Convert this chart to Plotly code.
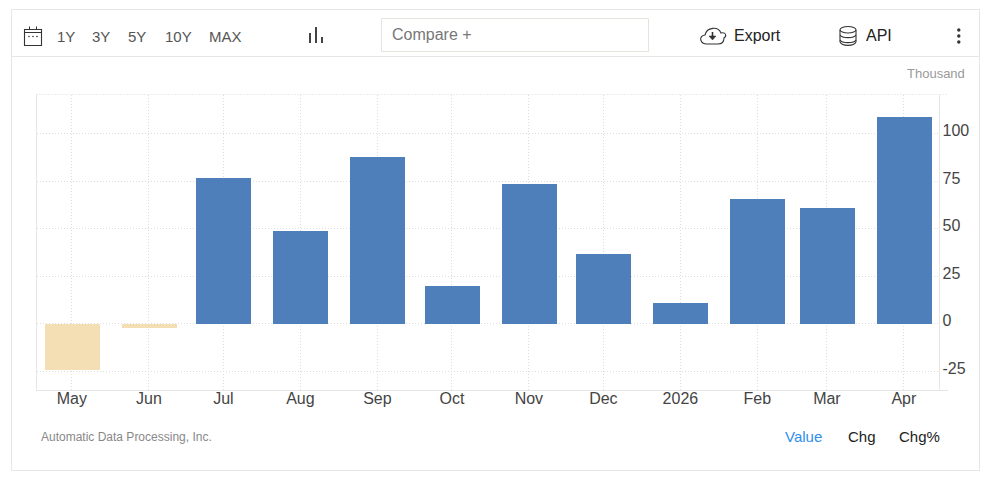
import plotly.graph_objects as go

dates = ["2025-05-01","2025-06-01","2025-07-01","2025-08-01","2025-09-01","2025-10-01",
         "2025-11-01","2025-12-01","2026-01-01","2026-02-01","2026-03-01","2026-04-01"]
values = [-24,-2,77.1,49.2,88.1,20.2,73.9,37.1,11.3,66,61.3,109.2]
x_labels = ["May","Jun","Jul","Aug","Sep","Oct","Nov","Dec","2026","Feb","Mar","Apr"]
y_ticks = [-25,0,25,50,75,100]
y_labels = ["-25","0","25","50","75","100"]

W, H = 991, 478
px = lambda x: x / W
py = lambda y: 1 - y / H
BLUE, SAND = "#4e7fbb", "#f4deb4"
BORDER = "#e6e6e6"
DOT = "1px,2px"

fig = go.Figure(go.Bar(
    x=dates, y=values,
    width=22.13 * 86400000,
    marker=dict(color=[BLUE if v >= 0 else SAND for v in values], line_width=0),
    hoverinfo="skip",
))

shapes = []
def line(x0, y0, x1, y1, color=BORDER, width=1, dash="solid", layer="above"):
    shapes.append(dict(type="line", xref="paper", yref="paper", x0=px(x0), y0=py(y0), x1=px(x1), y1=py(y1),
                       line=dict(color=color, width=width, dash=dash), layer=layer))
def rect(x0, y0, x1, y1, color=BORDER, width=1, fill=None):
    shapes.append(dict(type="rect", xref="paper", yref="paper", x0=px(x0), y0=py(y0), x1=px(x1), y1=py(y1),
                       line=dict(color=color, width=width), fillcolor=fill or "rgba(0,0,0,0)", layer="above"))
def circle(cx, cy, r, color):
    shapes.append(dict(type="circle", xref="paper", yref="paper", x0=px(cx-r), y0=py(cy-r), x1=px(cx+r), y1=py(cy+r),
                       line=dict(width=0), fillcolor=color, layer="above"))
def path(points, color="#333", width=1.2, fill=None):
    d = ""
    for cmd, *xy in points:
        d += cmd + " ".join(f"{px(xy[i]):.5f},{py(xy[i+1]):.5f}" for i in range(0, len(xy), 2))
    shapes.append(dict(type="path", xref="paper", yref="paper", path=d,
                       line=dict(color=color, width=width), fillcolor=fill or "rgba(0,0,0,0)", layer="above"))

# frame and toolbar
rect(11.5, 9.5, 979.5, 470.5)
line(12, 56.5, 979, 56.5)
rect(381.5, 18.5, 648.5, 51.5, color="#e4e4dc")
# chart frame lines
line(36.5, 94.5, 948, 94.5, dash=DOT, color="#dddddd")
line(36.5, 94.5, 36.5, 390.5)
line(939.5, 94.5, 939.5, 390.5)
line(36.5, 390.5, 948, 390.5)
# calendar icon
rect(24.5, 29.5, 41.5, 45.5, color="#333", width=1.1)
line(24.5, 32.5, 41.5, 32.5, color="#333", width=1)
line(29.5, 26.5, 29.5, 29.5, color="#333", width=1)
line(36.5, 26.5, 36.5, 29.5, color="#333", width=1)
for cx in (29, 33, 37):
    circle(cx, 36.5, 0.8, "#333")
# bar-chart icon
line(310, 33, 310, 43, color="#444", width=2)
line(316, 27, 316, 43, color="#444", width=2)
line(322, 37, 322, 43, color="#444", width=2)
# cloud icon
path([("M",707,44),("C",700,44,698,36,705,35),("C",707,27,718,26,721,33),("C",726,32,727,36,724,38),
      ("C",724,42,722,44,718,44),("L",707,44),("Z",)], color="#333", width=1.1)
line(712.5, 32, 712.5, 37, color="#333", width=1.6)
path([("M",709,36),("L",716,36),("L",712.5,40),("Z",)], color="#333", width=0.5, fill="#333")
# database icon
shapes.append(dict(type="circle", xref="paper", yref="paper", x0=px(840), x1=px(856), y0=py(26.5), y1=py(33),
                   line=dict(color="#333", width=1.1), layer="above"))
line(840, 30, 840, 42, color="#333", width=1.1)
line(856, 30, 856, 42, color="#333", width=1.1)
for yc in (35, 40):
    path([("M",840,yc),("C",842,yc+3.5,854,yc+3.5,856,yc)], color="#333", width=1.1)
path([("M",840,42),("C",842,46.5,854,46.5,856,42)], color="#333", width=1.1)
# kebab
for cy in (30, 36, 42):
    circle(958.8, cy, 1.7, "#333")

anns = []
def text(x, y, s, size, color, anchor="left"):
    anns.append(dict(text=s, x=px(x), y=py(y), xref="paper", yref="paper", showarrow=False,
                     xanchor=anchor, yanchor="middle", borderpad=0, borderwidth=0,
                     font=dict(family="Liberation Sans, Arial", size=size, color=color)))
for x, s in [(57, "1Y"), (92, "3Y"), (128, "5Y"), (165, "10Y"), (209, "MAX")]:
    text(x, 36.5, s, 15, "#555")
text(392, 34.5, "Compare +", 16, "#777")
text(734, 35.5, "Export", 16, "#222")
text(866, 35.5, "API", 16, "#222")
text(965, 73.5, "Thousand", 13, "#999", "right")
text(41, 436.5, "Automatic Data Processing, Inc.", 12, "#888")
text(785, 436.5, "Value", 15, "#2e8ff0")
text(848, 436.5, "Chg", 15, "#222")
text(899, 436.5, "Chg%", 15, "#222")

tickfont = dict(family="Liberation Sans, Arial", size=16, color="#444")
fig.update_layout(
    width=W, height=H, autosize=False,
    margin=dict(l=0, r=0, t=0, b=0),
    paper_bgcolor="white", plot_bgcolor="white",
    showlegend=False, bargap=0,
    shapes=shapes, annotations=anns,
    xaxis=dict(
        domain=[px(36.5), px(939.5)],
        type="date", range=["2025-04-16 18:00", "2026-04-15 08:00"],
        tickmode="array", tickvals=dates, ticktext=x_labels,
        showgrid=True, gridcolor="#dddddd", griddash=DOT, gridwidth=1,
        ticks="", zeroline=False, showline=False, tickfont=tickfont,
        tickangle=0, ticklabelstandoff=-4,
    ),
    yaxis=dict(
        domain=[py(390.5), py(94.5)],
        range=[-35.1, 120.6], side="right",
        tickmode="array", tickvals=y_ticks, ticktext=y_labels,
        showgrid=True, gridcolor="#dddddd", griddash=DOT, gridwidth=1,
        ticks="", zeroline=False, showline=False, tickfont=tickfont,
        ticklabelstandoff=2, ticklabelshift=-3,
    ),
)

fig.write_html("out.html", config=dict(displayModeBar=False, responsive=False),
               post_script="document.body.style.margin='0';document.body.style.overflow='hidden';")
